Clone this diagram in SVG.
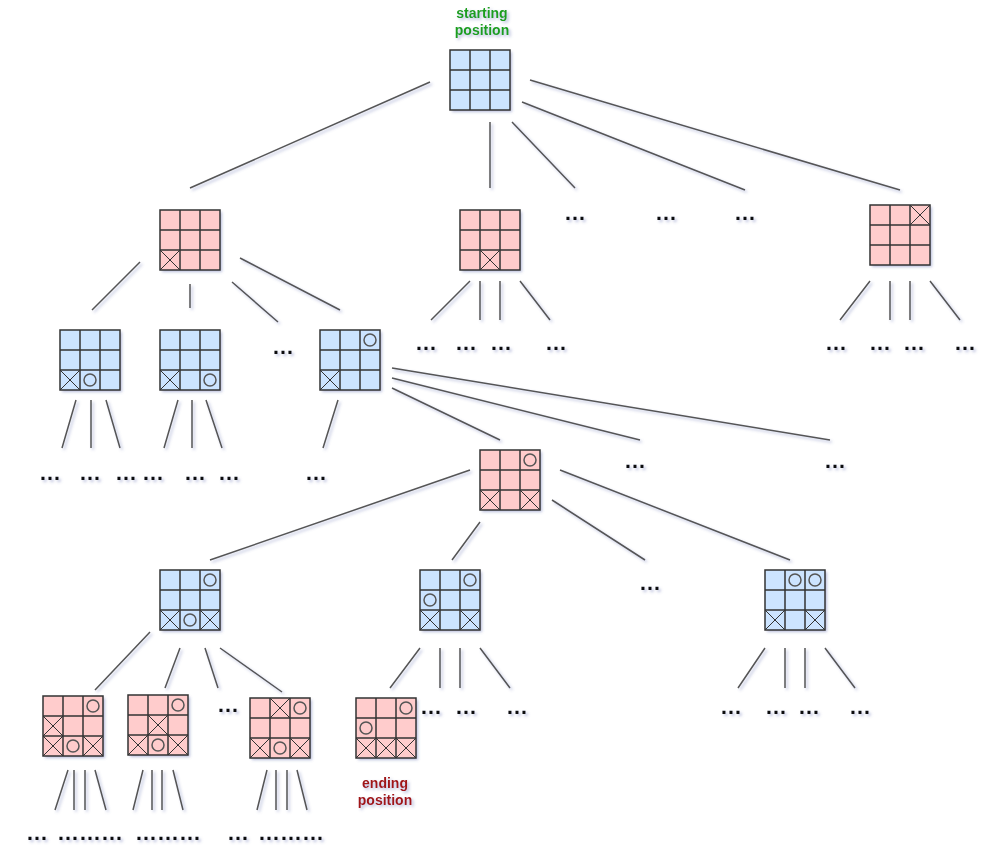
<svg xmlns="http://www.w3.org/2000/svg" width="992" height="854" viewBox="0 0 992 854">
<style>
.bg{fill:#ffffff}
.blue{fill:#cce4ff}
.pink{fill:#ffcccc}
.grid{fill:none;stroke:#333333;stroke-width:1.5}
.x{fill:none;stroke:#333333;stroke-width:1}
.o{fill:none;stroke:#555555;stroke-width:1.5}
.edge{fill:none;stroke:#555555;stroke-width:1.5}
.dots{font-family:"Liberation Sans",Arial,sans-serif;font-size:22px;font-weight:bold;fill:#111111;text-anchor:middle}
.lbl{font-family:"Liberation Sans",Arial,sans-serif;font-size:14px;font-weight:bold;text-anchor:middle}
</style>
<defs>
<filter id="sh" x="-20%" y="-20%" width="150%" height="150%">
<feDropShadow dx="2" dy="2" stdDeviation="1.5" flood-color="#6070b0" flood-opacity="0.45"/>
</filter>
<path id="gridlines" class="grid" d="M0 0H60V60H0Z M20 0V60 M40 0V60 M0 20H60 M0 40H60"/>
<path id="xm" class="x" d="M0 0L20 20M20 0L0 20"/>
<circle id="om" class="o" cx="10" cy="10" r="6"/>
</defs>
<rect class="bg" x="0" y="0" width="992" height="854"/>

<g id="connectors" filter="url(#sh)">
<path class="edge" d="M430 82L190 188 M490 122L490 188 M512 122L575 188 M522 102L745 190 M530 80L900 190"/>
<path class="edge" d="M140 262L92 310 M190 284L190 308 M232 282L278 322 M240 258L340 310"/>
<path class="edge" d="M470 281L431 320 M480 281L480 320 M500 281L500 320 M520 281L550 320"/>
<path class="edge" d="M870 281L840 320 M890 281L890 320 M910 281L910 320 M930 281L960 320"/>
<path class="edge" d="M76 400L62 448 M91 400L91 448 M106 400L120 448"/>
<path class="edge" d="M178 400L164 448 M192 400L192 448 M206 400L222 448"/>
<path class="edge" d="M338 400L323 448 M392 388L500 440 M392 378L640 440 M392 368L830 440"/>
<path class="edge" d="M470 470L210 560 M480 522L452 560 M552 500L645 560 M560 470L790 560"/>
<path class="edge" d="M150 632L95 690 M180 648L165 688 M205 648L218 688 M220 648L282 692"/>
<path class="edge" d="M420 648L390 688 M440 648L440 688 M460 648L460 688 M480 648L510 688"/>
<path class="edge" d="M765 648L738 688 M785 648L785 688 M805 648L805 688 M825 648L855 688"/>
<path class="edge" d="M68 770L55 810 M74 770L74 810 M85 770L85 810 M95 770L106 810"/>
<path class="edge" d="M143 770L133 810 M152 770L152 810 M162 770L162 810 M173 770L183 810"/>
<path class="edge" d="M267 770L257 810 M276 770L276 810 M287 770L287 810 M297 770L307 810"/>
</g>

<g id="ellipses" filter="url(#sh)">
<text class="dots" x="575" y="220">…</text>
<text class="dots" x="666" y="220">…</text>
<text class="dots" x="745" y="220">…</text>
<text class="dots" x="283" y="354">…</text>
<text class="dots" x="426" y="350">…</text>
<text class="dots" x="466" y="350">…</text>
<text class="dots" x="501" y="350">…</text>
<text class="dots" x="556" y="350">…</text>
<text class="dots" x="836" y="350">…</text>
<text class="dots" x="880" y="350">…</text>
<text class="dots" x="914" y="350">…</text>
<text class="dots" x="965" y="350">…</text>
<text class="dots" x="50" y="480">…</text>
<text class="dots" x="90" y="480">…</text>
<text class="dots" x="126" y="480">…</text>
<text class="dots" x="153" y="480">…</text>
<text class="dots" x="195" y="480">…</text>
<text class="dots" x="229" y="480">…</text>
<text class="dots" x="316" y="480">…</text>
<text class="dots" x="635" y="468">…</text>
<text class="dots" x="835" y="468">…</text>
<text class="dots" x="650" y="590">…</text>
<text class="dots" x="228" y="712">…</text>
<text class="dots" x="431" y="714">…</text>
<text class="dots" x="466" y="714">…</text>
<text class="dots" x="517" y="714">…</text>
<text class="dots" x="731" y="714">…</text>
<text class="dots" x="776" y="714">…</text>
<text class="dots" x="809" y="714">…</text>
<text class="dots" x="860" y="714">…</text>
<text class="dots" x="37" y="840">…</text>
<text class="dots" x="90" y="840">………</text>
<text class="dots" x="168" y="840">………</text>
<text class="dots" x="238" y="840">…</text>
<text class="dots" x="291" y="840">………</text>
</g>

<g id="n0" transform="translate(450,50)">
<rect class="blue" width="60" height="60" filter="url(#sh)"/>
<use href="#gridlines"/>
</g>
<g id="label-start">
<text class="lbl" x="482" y="18" fill="#1f9e1f" filter="url(#sh)">starting</text>
<text class="lbl" x="482" y="35" fill="#1f9e1f" filter="url(#sh)">position</text>
</g>

<g id="n1" transform="translate(160,210)">
<rect class="pink" width="60" height="60" filter="url(#sh)"/>
<use href="#xm" x="0" y="40"/>
<use href="#gridlines"/>
</g>
<g id="n2" transform="translate(460,210)">
<rect class="pink" width="60" height="60" filter="url(#sh)"/>
<use href="#xm" x="20" y="40"/>
<use href="#gridlines"/>
</g>
<g id="n3" transform="translate(870,205)">
<rect class="pink" width="60" height="60" filter="url(#sh)"/>
<use href="#xm" x="40" y="0"/>
<use href="#gridlines"/>
</g>

<g id="n4" transform="translate(60,330)">
<rect class="blue" width="60" height="60" filter="url(#sh)"/>
<use href="#xm" x="0" y="40"/>
<use href="#om" x="20" y="40"/>
<use href="#gridlines"/>
</g>
<g id="n5" transform="translate(160,330)">
<rect class="blue" width="60" height="60" filter="url(#sh)"/>
<use href="#xm" x="0" y="40"/>
<use href="#om" x="40" y="40"/>
<use href="#gridlines"/>
</g>
<g id="n6" transform="translate(320,330)">
<rect class="blue" width="60" height="60" filter="url(#sh)"/>
<use href="#om" x="40" y="0"/>
<use href="#xm" x="0" y="40"/>
<use href="#gridlines"/>
</g>

<g id="n7" transform="translate(480,450)">
<rect class="pink" width="60" height="60" filter="url(#sh)"/>
<use href="#om" x="40" y="0"/>
<use href="#xm" x="0" y="40"/>
<use href="#xm" x="40" y="40"/>
<use href="#gridlines"/>
</g>

<g id="n8" transform="translate(160,570)">
<rect class="blue" width="60" height="60" filter="url(#sh)"/>
<use href="#om" x="40" y="0"/>
<use href="#xm" x="0" y="40"/>
<use href="#om" x="20" y="40"/>
<use href="#xm" x="40" y="40"/>
<use href="#gridlines"/>
</g>
<g id="n9" transform="translate(420,570)">
<rect class="blue" width="60" height="60" filter="url(#sh)"/>
<use href="#om" x="40" y="0"/>
<use href="#om" x="0" y="20"/>
<use href="#xm" x="0" y="40"/>
<use href="#xm" x="40" y="40"/>
<use href="#gridlines"/>
</g>
<g id="n10" transform="translate(765,570)">
<rect class="blue" width="60" height="60" filter="url(#sh)"/>
<use href="#om" x="20" y="0"/>
<use href="#om" x="40" y="0"/>
<use href="#xm" x="0" y="40"/>
<use href="#xm" x="40" y="40"/>
<use href="#gridlines"/>
</g>

<g id="n11" transform="translate(43,696)">
<rect class="pink" width="60" height="60" filter="url(#sh)"/>
<use href="#om" x="40" y="0"/>
<use href="#xm" x="0" y="20"/>
<use href="#xm" x="0" y="40"/>
<use href="#om" x="20" y="40"/>
<use href="#xm" x="40" y="40"/>
<use href="#gridlines"/>
</g>
<g id="n12" transform="translate(128,695)">
<rect class="pink" width="60" height="60" filter="url(#sh)"/>
<use href="#om" x="40" y="0"/>
<use href="#xm" x="20" y="20"/>
<use href="#xm" x="0" y="40"/>
<use href="#om" x="20" y="40"/>
<use href="#xm" x="40" y="40"/>
<use href="#gridlines"/>
</g>
<g id="n13" transform="translate(250,698)">
<rect class="pink" width="60" height="60" filter="url(#sh)"/>
<use href="#xm" x="20" y="0"/>
<use href="#om" x="40" y="0"/>
<use href="#xm" x="0" y="40"/>
<use href="#om" x="20" y="40"/>
<use href="#xm" x="40" y="40"/>
<use href="#gridlines"/>
</g>
<g id="n14" transform="translate(356,698)">
<rect class="pink" width="60" height="60" filter="url(#sh)"/>
<use href="#om" x="40" y="0"/>
<use href="#om" x="0" y="20"/>
<use href="#xm" x="0" y="40"/>
<use href="#xm" x="20" y="40"/>
<use href="#xm" x="40" y="40"/>
<use href="#gridlines"/>
</g>
<g id="label-end">
<text class="lbl" x="385" y="788" fill="#a01818" filter="url(#sh)">ending</text>
<text class="lbl" x="385" y="805" fill="#a01818" filter="url(#sh)">position</text>
</g>
</svg>
